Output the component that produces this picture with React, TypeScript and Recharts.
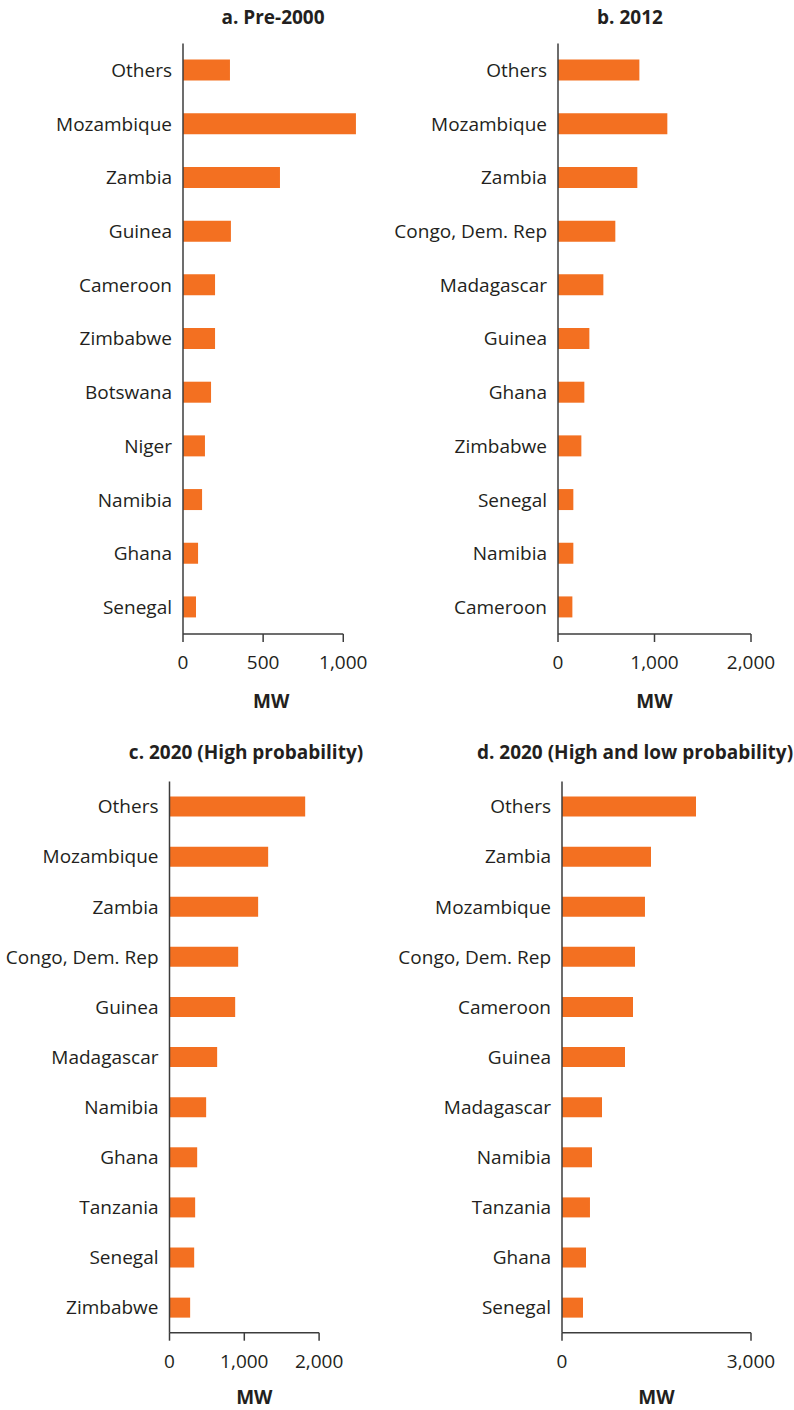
import React from 'react';
import { BarChart, Bar, XAxis, YAxis, ReferenceLine } from 'recharts';

// ---- Data ----
const aCategories = ['Others', 'Mozambique', 'Zambia', 'Guinea', 'Cameroon', 'Zimbabwe', 'Botswana', 'Niger', 'Namibia', 'Ghana', 'Senegal'];
const aValues = [293, 1079, 605, 299, 200, 200, 175, 137, 119, 94, 81];
const aTicks = [0, 500, 1000];

const bCategories = ['Others', 'Mozambique', 'Zambia', 'Congo, Dem. Rep', 'Madagascar', 'Guinea', 'Ghana', 'Zimbabwe', 'Senegal', 'Namibia', 'Cameroon'];
const bValues = [843, 1133, 822, 594, 470, 325, 273, 242, 159, 159, 149];
const bTicks = [0, 1000, 2000];

const cCategories = ['Others', 'Mozambique', 'Zambia', 'Congo, Dem. Rep', 'Guinea', 'Madagascar', 'Namibia', 'Ghana', 'Tanzania', 'Senegal', 'Zimbabwe'];
const cValues = [1814, 1319, 1185, 918, 878, 637, 490, 370, 343, 330, 276];
const cTicks = [0, 1000, 2000];

const dCategories = ['Others', 'Zambia', 'Mozambique', 'Congo, Dem. Rep', 'Cameroon', 'Guinea', 'Madagascar', 'Namibia', 'Tanzania', 'Ghana', 'Senegal'];
const dValues = [2127, 1413, 1317, 1159, 1127, 1000, 635, 476, 444, 381, 333];
const dTicks = [0, 3000];

const titles = ['a. Pre-2000', 'b. 2012', 'c. 2020 (High probability)', 'd. 2020 (High and low probability)'];
const axisTitle = 'MW';

// ---- Style ----
const FONT = '"Open Sans", "Noto Sans", sans-serif';
const TEXT = '#231f20';
const AXIS = '#3c3c3c';
const BAR = '#f37021';
const FS = 19;

type PanelCfg = {
  categories: string[];
  values: number[];
  ticks: number[];
  domainMax: number;
  lineTo?: number; // draw axis line only up to this value
  left: number;
  top: number;
  width: number;
  height: number;
  margin: { top: number; right: number; bottom: number; left: number };
  yAxisWidth: number;
  title: string;
  titleCenter: number;
  titleBaseline: number;
  mwDx: number;
  mwDy: number;
};

const fmt = (v: number) => v.toLocaleString('en-US');

function Panel({ cfg }: { cfg: PanelCfg }) {
  const data = cfg.categories.map((name, i) => ({ name, value: cfg.values[i] }));
  const lastCat = cfg.categories[cfg.categories.length - 1];
  const mwLabel = (props: any) => {
    const vb = props.viewBox || {};
    return (
      <text
        x={vb.x + vb.width / 2 + cfg.mwDx}
        y={vb.y + cfg.mwDy}
        textAnchor="middle"
        fontFamily={FONT}
        fontWeight={700}
        fontSize={FS}
        fill={TEXT}
      >
        {axisTitle}
      </text>
    );
  };
  return (
    <>
      <div
        style={{
          position: 'absolute',
          left: cfg.titleCenter - 250,
          width: 500,
          top: cfg.titleBaseline - 17.5,
          lineHeight: '20px',
          textAlign: 'center',
          fontFamily: FONT,
          fontWeight: 700,
          fontSize: FS,
          color: TEXT,
          whiteSpace: 'nowrap',
        }}
      >
        {cfg.title}
      </div>
      <div style={{ position: 'absolute', left: cfg.left, top: cfg.top, width: cfg.width, height: cfg.height }}>
        <BarChart
          width={cfg.width}
          height={cfg.height}
          data={data}
          layout="vertical"
          margin={cfg.margin}
          barCategoryGap="30%"
        >
          <XAxis
            type="number"
            domain={[0, cfg.domainMax]}
            ticks={cfg.ticks}
            interval={0}
            tickFormatter={fmt}
            height={60}
            tickSize={8}
            tickMargin={14}
            axisLine={cfg.lineTo === undefined ? { stroke: AXIS, strokeWidth: 1.5 } : false}
            tickLine={{ stroke: AXIS, strokeWidth: 1.5 }}
            tick={{ fontFamily: FONT, fontSize: FS, fill: TEXT }}
            label={mwLabel}
          />
          <YAxis
            type="category"
            dataKey="name"
            width={cfg.yAxisWidth}
            tickLine={false}
            tickSize={0}
            tickMargin={11}
            interval={0}
            axisLine={{ stroke: AXIS, strokeWidth: 1.5 }}
            tick={{ fontFamily: FONT, fontSize: FS, fill: TEXT }}
          />
          <Bar dataKey="value" fill={BAR} isAnimationActive={false} />
          {cfg.lineTo !== undefined && (
            <ReferenceLine
              segment={[
                { x: 0, y: lastCat },
                { x: cfg.lineTo, y: lastCat },
              ]}
              position="end"
              ifOverflow="visible"
              stroke={AXIS}
              strokeWidth={1.5}
            />
          )}
        </BarChart>
      </div>
    </>
  );
}

const panels: PanelCfg[] = [
  {
    categories: aCategories,
    values: aValues,
    ticks: aTicks,
    domainMax: 1100,
    lineTo: 1000,
    left: 0,
    top: 0,
    width: 397,
    height: 720,
    margin: { top: 43.5, right: 37.7, bottom: 26, left: 0 },
    yAxisWidth: 183,
    title: titles[0],
    titleCenter: 273,
    titleBaseline: 24,
    mwDx: 0,
    mwDy: 73.5,
  },
  {
    categories: bCategories,
    values: bValues,
    ticks: bTicks,
    domainMax: 2000,
    left: 360,
    top: 0,
    width: 434,
    height: 720,
    margin: { top: 43.5, right: 43, bottom: 26, left: 0 },
    yAxisWidth: 198,
    title: titles[1],
    titleCenter: 630,
    titleBaseline: 24,
    mwDx: 0,
    mwDy: 73.5,
  },
  {
    categories: cCategories,
    values: cValues,
    ticks: cTicks,
    domainMax: 2000,
    left: 0,
    top: 730,
    width: 397,
    height: 680,
    margin: { top: 51.5, right: 77.9, bottom: 17.3, left: 0 },
    yAxisWidth: 169.5,
    title: titles[2],
    titleCenter: 246,
    titleBaseline: 759,
    mwDx: 10,
    mwDy: 71.5,
  },
  {
    categories: dCategories,
    values: dValues,
    ticks: dTicks,
    domainMax: 3000,
    left: 360,
    top: 730,
    width: 434,
    height: 680,
    margin: { top: 51.5, right: 43, bottom: 17.3, left: 0 },
    yAxisWidth: 202,
    title: titles[3],
    titleCenter: 635,
    titleBaseline: 759,
    mwDx: 0,
    mwDy: 71.5,
  },
];

export default function App() {
  return (
    <div style={{ position: 'absolute', left: 0, top: 0, width: 794, height: 1410, background: '#fff', overflow: 'hidden' }}>
      {panels.map((p, i) => (
        <Panel key={i} cfg={p} />
      ))}
    </div>
  );
}
